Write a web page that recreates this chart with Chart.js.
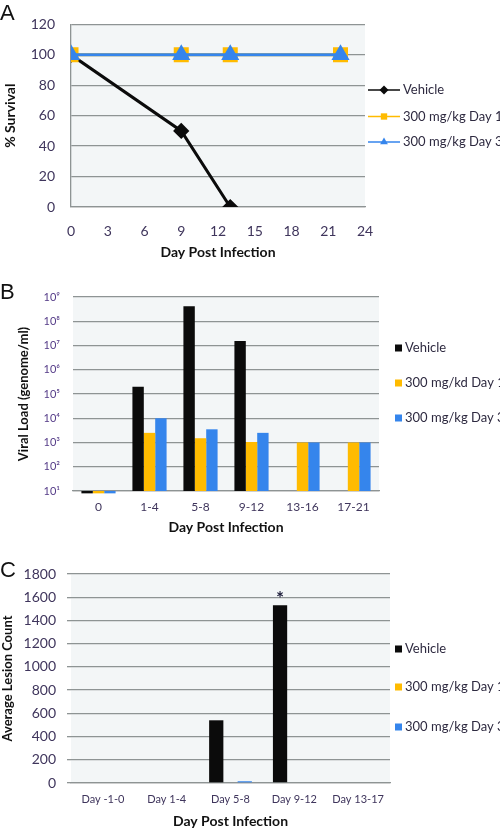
<!DOCTYPE html>
<html>
<head>
<meta charset="utf-8">
<script src="https://cdn.jsdelivr.net/npm/chart.js@4/dist/chart.umd.min.js"></script>
<style>
  body { margin: 0; width: 500px; height: 830px; background: #fff; overflow: hidden; position: relative; }
  .panel { position: absolute; left: 0; width: 500px; }
  .letter { position: absolute; left: 0; font-family: "Liberation Sans", Arial, sans-serif; font-size: 22px; color: #111; }
</style>
</head>
<body>
<div class="panel" style="top:0;height:270px"><canvas id="survival" width="500" height="270"></canvas></div>
<div class="panel" style="top:270px;height:280px"><canvas id="viral" width="500" height="280"></canvas></div>
<div class="panel" style="top:550px;height:280px"><canvas id="lesion" width="500" height="280"></canvas></div>
<div class="letter" style="top:0px">A</div>
<div class="letter" style="top:279px">B</div>
<div class="letter" style="top:557px">C</div>

<script>
// Panel A data - survival
const vehicleDays = [0, 9, 13];
const vehicleSurvival = [100, 50, 0];
const treatedDays = [0, 9, 13, 22];
const day1Survival = [100, 100, 100, 100];
const day3Survival = [100, 100, 100, 100];

// Panel B data - viral load
const viralLabels = ['0', '1-4', '5-8', '9-12', '13-16', '17-21'];
const viralVehicle = [8, 2e5, 4.2e8, 1.55e7, null, null];
const viralDay1 = [8, 2.5e3, 1.5e3, 1.05e3, 1e3, 1e3];
const viralDay3 = [8, 1e4, 3.5e3, 2.5e3, 1e3, 1e3];
const viralTicks = [1e1, 1e2, 1e3, 1e4, 1e5, 1e6, 1e7, 1e8, 1e9];

// Panel C data - lesions
const lesionLabels = ['Day -1-0', 'Day 1-4', 'Day 5-8', 'Day 9-12', 'Day 13-17'];
const lesionVehicle = [0, 0, 540, 1530, 0];
const lesionDay1 = [0, 0, 0, 0, 0];
const lesionDay3 = [0, 0, 15, 0, 0];
const lesionMarks = ['', '', '', '*', ''];

const FONT = "Lato, 'Open Sans', sans-serif";
const BLACK = '#0b0b0b';
const ORANGE = '#ffbb00';
const BLUE = '#3585ec';
const GRID = '#8e9494';
const TICK = '#3f355c';

Chart.defaults.font.family = FONT;
Chart.defaults.animation = false;

// light plot background
const plotBg = {
    id: 'plotBg',
    beforeDraw(chart) {
        const a = chart.chartArea;
        chart.ctx.save();
        chart.ctx.fillStyle = '#f3f6f7';
        chart.ctx.fillRect(a.left, a.top, a.right - a.left, a.bottom - a.top);
        chart.ctx.restore();
    }
};

// legend on the right, drawn from the datasets
const sideLegend = {
    id: 'sideLegend',
    afterDraw(chart, args, opts) {
        const ctx = chart.ctx;
        const x = chart.chartArea.right + opts.offset;
        ctx.save();
        ctx.font = '13px ' + FONT;
        ctx.textBaseline = 'middle';
        chart.data.datasets.forEach((ds, i) => {
            const y = opts.rows[i];
            let tx;
            if (opts.lines) {
                ctx.strokeStyle = ds.borderColor;
                ctx.lineWidth = 1.5;
                ctx.beginPath();
                ctx.moveTo(x, y);
                ctx.lineTo(x + 32, y);
                ctx.stroke();
                ctx.fillStyle = ds.borderColor;
                Chart.helpers.drawPoint(ctx, { pointStyle: ds.pointStyle, rotation: 0, radius: 4.5, borderWidth: 0 }, x + 16, y);
                tx = x + 35;
            } else {
                ctx.fillStyle = ds.backgroundColor;
                ctx.fillRect(x, y - 3.5, 7, 7);
                tx = x + 10;
            }
            ctx.fillStyle = '#2e2a40';
            ctx.fillText(ds.label, tx, y);
        });
        ctx.restore();
    }
};

// asterisk above marked bars
const barMarks = {
    id: 'barMarks',
    afterDatasetsDraw(chart) {
        const meta = chart.getDatasetMeta(0);
        const ctx = chart.ctx;
        ctx.save();
        ctx.font = 'bold 19px ' + FONT;
        ctx.fillStyle = '#1c1c3a';
        ctx.textAlign = 'center';
        ctx.textBaseline = 'middle';
        lesionMarks.forEach((m, i) => {
            if (!m) return;
            const bar = meta.data[i];
            ctx.fillText(m, bar.x, bar.y - 6);
        });
        ctx.restore();
    }
};

const SUP = { '1': '\u00b9', '2': '\u00b2', '3': '\u00b3', '4': '\u2074', '5': '\u2075', '6': '\u2076', '7': '\u2077', '8': '\u2078', '9': '\u2079' };

// Panel A
new Chart(document.getElementById('survival'), {
    type: 'line',
    data: {
        datasets: [{
            label: 'Vehicle',
            data: vehicleDays.map((d, i) => ({ x: d, y: vehicleSurvival[i] })),
            borderColor: BLACK,
            backgroundColor: BLACK,
            borderWidth: 3,
            pointStyle: 'rectRot',
            pointRadius: 6,
            order: 2
        }, {
            label: '300 mg/kg Day 1',
            data: treatedDays.map((d, i) => ({ x: d, y: day1Survival[i] })),
            borderColor: ORANGE,
            backgroundColor: ORANGE,
            borderWidth: 3,
            pointStyle: 'rect',
            pointRadius: 8.5,
            order: 1
        }, {
            label: '300 mg/kg Day 3',
            data: treatedDays.map((d, i) => ({ x: d, y: day3Survival[i] })),
            borderColor: BLUE,
            backgroundColor: BLUE,
            borderWidth: 3,
            pointStyle: 'triangle',
            pointRadius: 7.5,
            order: 0
        }]
    },
    options: {
        responsive: false,
        layout: { padding: { left: 0, top: 15, right: 135, bottom: 0 } },
        plugins: {
            legend: { display: false },
            tooltip: { enabled: false },
            sideLegend: { offset: 3, rows: [90, 116.5, 142], lines: true }
        },
        scales: {
            x: {
                type: 'linear',
                min: 0,
                max: 24,
                ticks: { stepSize: 3, padding: 16, color: TICK, font: { size: 14 } },
                grid: { display: false, drawTicks: false },
                border: { display: true, color: GRID, width: 1.3 },
                title: { display: true, text: 'Day Post Infection', color: '#111', font: { size: 14, weight: 'bold' }, padding: { top: 0, bottom: 9 } },
                afterFit: s => { s.height = 63; }
            },
            y: {
                min: 0,
                max: 120,
                ticks: { stepSize: 20, padding: 16, color: TICK, font: { size: 14 } },
                grid: { color: GRID, lineWidth: 1.3, drawTicks: false },
                border: { display: true, color: GRID, width: 1.3 },
                title: { display: true, text: '% Survival', color: '#111', font: { size: 14, weight: 'bold' }, padding: { top: 2, bottom: 0 } },
                afterFit: s => { s.width = 71; }
            }
        }
    },
    plugins: [plotBg, sideLegend]
});

// Panel B
new Chart(document.getElementById('viral'), {
    type: 'bar',
    data: {
        labels: viralLabels,
        datasets: [
            { label: 'Vehicle', data: viralVehicle, backgroundColor: BLACK, clip: false },
            { label: '300 mg/kd Day 1', data: viralDay1, backgroundColor: ORANGE, clip: false },
            { label: '300 mg/kg Day 3', data: viralDay3, backgroundColor: BLUE, clip: false }
        ]
    },
    options: {
        responsive: false,
        layout: { padding: { left: 0, top: 27, right: 121, bottom: 0 } },
        datasets: { bar: { categoryPercentage: 0.67, barPercentage: 1 } },
        plugins: {
            legend: { display: false },
            tooltip: { enabled: false },
            sideLegend: { offset: 16, rows: [78, 113, 148], lines: false }
        },
        scales: {
            x: {
                ticks: { padding: 9, color: TICK, font: { size: 12 } },
                grid: { display: false, drawTicks: false },
                border: { display: true, color: GRID, width: 1.3 },
                title: { display: true, text: 'Day Post Infection', color: '#111', font: { size: 14, weight: 'bold' }, padding: { top: 0, bottom: 14 } },
                afterFit: s => { s.height = 59; }
            },
            y: {
                type: 'logarithmic',
                min: 10,
                max: 1e9,
                afterBuildTicks: s => { s.ticks = viralTicks.map(v => ({ value: v })); },
                ticks: {
                    padding: 13,
                    color: '#553c88',
                    font: { size: 11 },
                    callback: v => '10' + SUP[String(Math.round(Math.log10(v)))]
                },
                grid: { color: GRID, lineWidth: 1.3, drawTicks: false },
                border: { display: false },
                title: { display: true, text: 'Viral Load (genome/ml)', color: '#111', font: { size: 13, weight: 'bold' }, padding: { top: 16, bottom: 0 } },
                afterFit: s => { s.width = 73; }
            }
        }
    },
    plugins: [plotBg, sideLegend]
});

// Panel C
new Chart(document.getElementById('lesion'), {
    type: 'bar',
    data: {
        labels: lesionLabels,
        datasets: [
            { label: 'Vehicle', data: lesionVehicle, backgroundColor: BLACK },
            { label: '300 mg/kg Day 1', data: lesionDay1, backgroundColor: ORANGE },
            { label: '300 mg/kg Day 3', data: lesionDay3, backgroundColor: BLUE }
        ]
    },
    options: {
        responsive: false,
        layout: { padding: { left: 0, top: 24, right: 110, bottom: 0 } },
        datasets: { bar: { categoryPercentage: 0.67, barPercentage: 1 } },
        plugins: {
            legend: { display: false },
            tooltip: { enabled: false },
            sideLegend: { offset: 5, rows: [99, 137, 177], lines: false }
        },
        scales: {
            x: {
                ticks: { padding: 10, color: TICK, font: { size: 11 } },
                grid: { display: false, drawTicks: false },
                border: { display: true, color: GRID, width: 1.3 },
                title: { display: true, text: 'Day Post Infection', color: '#111', font: { size: 14, weight: 'bold' }, padding: { top: 0, bottom: 0 } },
                afterFit: s => { s.height = 47; }
            },
            y: {
                min: 0,
                max: 1800,
                ticks: { stepSize: 200, padding: 11, color: TICK, font: { size: 14 }, callback: v => String(v) },
                grid: { color: GRID, lineWidth: 1.3, drawTicks: true, tickLength: 4 },
                border: { display: false },
                title: { display: true, text: 'Average Lesion Count', color: '#111', font: { size: 13, weight: 'bold' }, padding: { top: 0, bottom: 0 } },
                afterFit: s => { s.width = 71; }
            }
        }
    },
    plugins: [plotBg, sideLegend, barMarks]
});
</script>
</body>
</html>
